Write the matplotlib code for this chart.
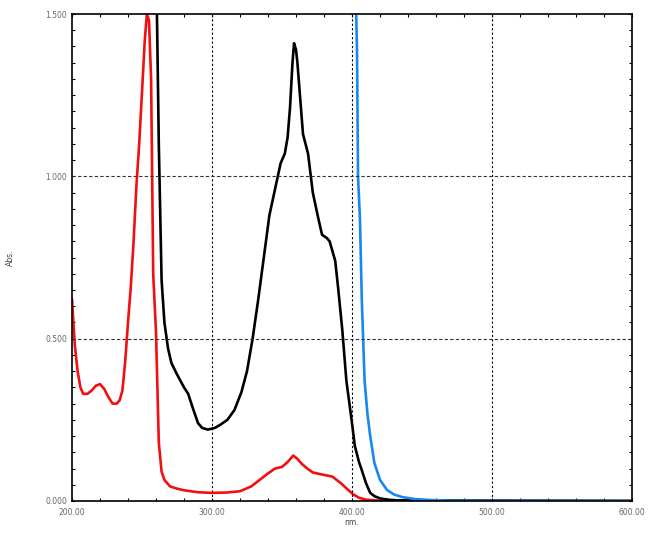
import numpy as np
import matplotlib
matplotlib.use('Agg')
import matplotlib.pyplot as plt
from matplotlib.ticker import MultipleLocator, FormatStrFormatter

# red spectrum
wl_red  = [200, 202, 204, 206, 208, 211, 214, 217, 220, 223, 226, 229, 232, 234, 236, 238,
           240, 242, 244, 246, 248, 250, 252, 253.5, 255, 256.5, 258, 260, 261, 262, 264,
           266, 270, 275, 280, 290, 300, 310, 320, 328, 334, 340, 345, 350, 354, 358, 361,
           364, 368, 372, 377, 386, 392, 397, 401, 405, 410, 420, 600]
abs_red = [0.62, 0.48, 0.40, 0.35, 0.33, 0.33, 0.34, 0.355, 0.36, 0.345, 0.32, 0.30, 0.30, 0.31, 0.34, 0.43,
           0.55, 0.66, 0.80, 0.97, 1.10, 1.26, 1.42, 1.50, 1.48, 1.30, 0.70, 0.52, 0.35, 0.18, 0.09,
           0.065, 0.045, 0.038, 0.033, 0.027, 0.025, 0.026, 0.03, 0.045, 0.065, 0.085, 0.10, 0.105, 0.12, 0.14, 0.13,
           0.115, 0.10, 0.088, 0.083, 0.075, 0.055, 0.035, 0.02, 0.01, 0.004, 0.001, 0.0]

# black spectrum
wl_blk  = [260.5, 262, 264, 266, 268.6, 271, 275, 280, 283, 286, 290, 293, 297, 302, 306, 311,
           316, 321, 325, 329, 333, 337, 341, 343, 346, 349, 352, 354, 355.7, 357.5, 358.6, 360,
           361, 363, 365, 368.6, 372, 375.7, 378.6, 382, 384, 386, 388, 390, 393, 396, 400, 402,
           405, 407, 410, 413, 416, 420, 426, 432, 600]
abs_blk = [1.55, 1.10, 0.68, 0.55, 0.47, 0.425, 0.39, 0.35, 0.33, 0.29, 0.24, 0.225, 0.22, 0.225, 0.235, 0.25,
           0.28, 0.335, 0.40, 0.50, 0.62, 0.75, 0.88, 0.92, 0.98, 1.04, 1.07, 1.12, 1.21, 1.35, 1.41, 1.39,
           1.35, 1.24, 1.13, 1.07, 0.95, 0.875, 0.82, 0.81, 0.80, 0.77, 0.74, 0.66, 0.53, 0.37, 0.24, 0.17,
           0.12, 0.095, 0.055, 0.025, 0.015, 0.008, 0.004, 0.002, 0.0]

# blue spectrum
wl_blu  = [402.5, 403.6, 404.3, 405.7, 407, 409, 411, 413, 416, 420, 425, 430, 436, 445, 456, 470, 600]
abs_blu = [1.6, 1.38, 1.0, 0.865, 0.62, 0.37, 0.27, 0.2, 0.117, 0.065, 0.034, 0.02, 0.012, 0.006, 0.003, 0.001, 0.0]

fig = plt.figure(figsize=(6.6, 5.34), dpi=100)
ax = fig.add_axes([72/660, 33/534, 560/660, 487/534])

ax.plot(wl_red, abs_red, color='#f01010', lw=1.9)
ax.plot(wl_blk, abs_blk, color='black', lw=1.9)
ax.plot(wl_blu, abs_blu, color='#1a86f0', lw=1.9)

ax.set_xlim(200, 600)
ax.set_ylim(0, 1.5)
ax.xaxis.set_major_locator(MultipleLocator(100))
ax.xaxis.set_minor_locator(MultipleLocator(20))
ax.yaxis.set_major_locator(MultipleLocator(0.5))
ax.yaxis.set_minor_locator(MultipleLocator(0.05))
ax.xaxis.set_major_formatter(FormatStrFormatter('%.2f'))
ax.yaxis.set_major_formatter(FormatStrFormatter('%.3f'))

ax.tick_params(which='both', direction='in', top=True, right=True,
               labelsize=5.5, labelcolor='#666666', length=2, width=0.8)
ax.tick_params(axis='x', pad=5)

for v in [300, 400, 500]:
    ax.axvline(v, color='black', lw=0.8, ls=(0, (2, 2)))
for v in [0.5, 1.0]:
    ax.axhline(v, color='#333333', lw=0.8, ls=(0, (3, 2)))

for s in ax.spines.values():
    s.set_linewidth(1.2)

ax.set_xlabel('nm.', fontsize=5.5, color='#444444', labelpad=1)
ax.set_ylabel('Abs.', fontsize=5.5, color='#444444', labelpad=22)

plt.savefig('out.png', dpi=100)
